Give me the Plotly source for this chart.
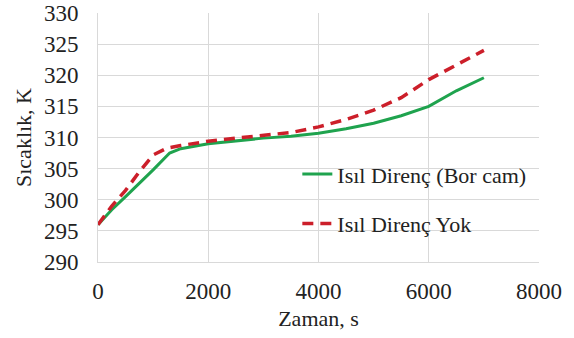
import plotly.graph_objects as go

time_green = [0, 250, 500, 750, 1000, 1300, 1500, 2000, 2500, 3000, 3500, 4000, 4500, 5000, 5500, 6000, 6500, 7000]
temp_green = [296.0, 298.4, 300.5, 302.6, 304.8, 307.5, 308.2, 309.0, 309.5, 309.9, 310.2, 310.7, 311.4, 312.3, 313.5, 315.0, 317.5, 319.6]

time_red = [0, 250, 500, 750, 1000, 1250, 1500, 2000, 2500, 3000, 3500, 4000, 4500, 5000, 5500, 6000, 6500, 7000]
temp_red = [296.0, 299.0, 301.5, 304.5, 307.2, 308.3, 308.7, 309.4, 309.9, 310.3, 310.8, 311.7, 312.9, 314.4, 316.4, 319.3, 321.7, 324.0]

name_green = "Isıl Direnç (Bor cam)"
name_red = "Isıl Direnç Yok"

x_ticks = [0, 2000, 4000, 6000, 8000]
y_ticks = [290, 295, 300, 305, 310, 315, 320, 325, 330]

font = "Liberation Serif, Times New Roman, serif"
grid = "#d9d9d9"

fig = go.Figure()
fig.add_trace(go.Scatter(x=time_green, y=temp_green, mode="lines", name=name_green,
                         line=dict(color="#1fa34e", width=3), legendgroup="g"))
fig.add_trace(go.Scatter(x=time_red, y=temp_red, mode="lines", name=name_red,
                         line=dict(color="#cc1f2a", width=3.5, dash="11px,7px"), legendgroup="r"))

fig.update_layout(
    width=574, height=338,
    margin=dict(l=98, r=35, t=13, b=76),
    paper_bgcolor="white", plot_bgcolor="white",
    font=dict(family=font, size=22, color="#222222"),
    legend=dict(x=0.452, y=0.437, xanchor="left", yanchor="top",
                bgcolor="rgba(0,0,0,0)", tracegroupgap=18,
                font=dict(size=22, family=font)),
    xaxis=dict(range=[0, 8000], tickvals=x_ticks, showgrid=True, gridcolor=grid, gridwidth=1,
               showline=True, linecolor=grid, linewidth=1, mirror=False, zeroline=False,
               automargin=False,
               ticks="", ticklabelstandoff=8, tickfont=dict(size=23, family=font),
               title=dict(text="Zaman, s", font=dict(size=22, family=font), standoff=8)),
    yaxis=dict(range=[290, 330], tickvals=y_ticks, showgrid=True, gridcolor=grid, gridwidth=1,
               showline=True, linecolor=grid, linewidth=1, zeroline=False,
               automargin=False,
               ticks="", ticklabelstandoff=14, tickfont=dict(size=23, family=font),
               title=dict(text="Sıcaklık, K", font=dict(size=22, family=font), standoff=6)),
)

fig.write_html("out.html")
